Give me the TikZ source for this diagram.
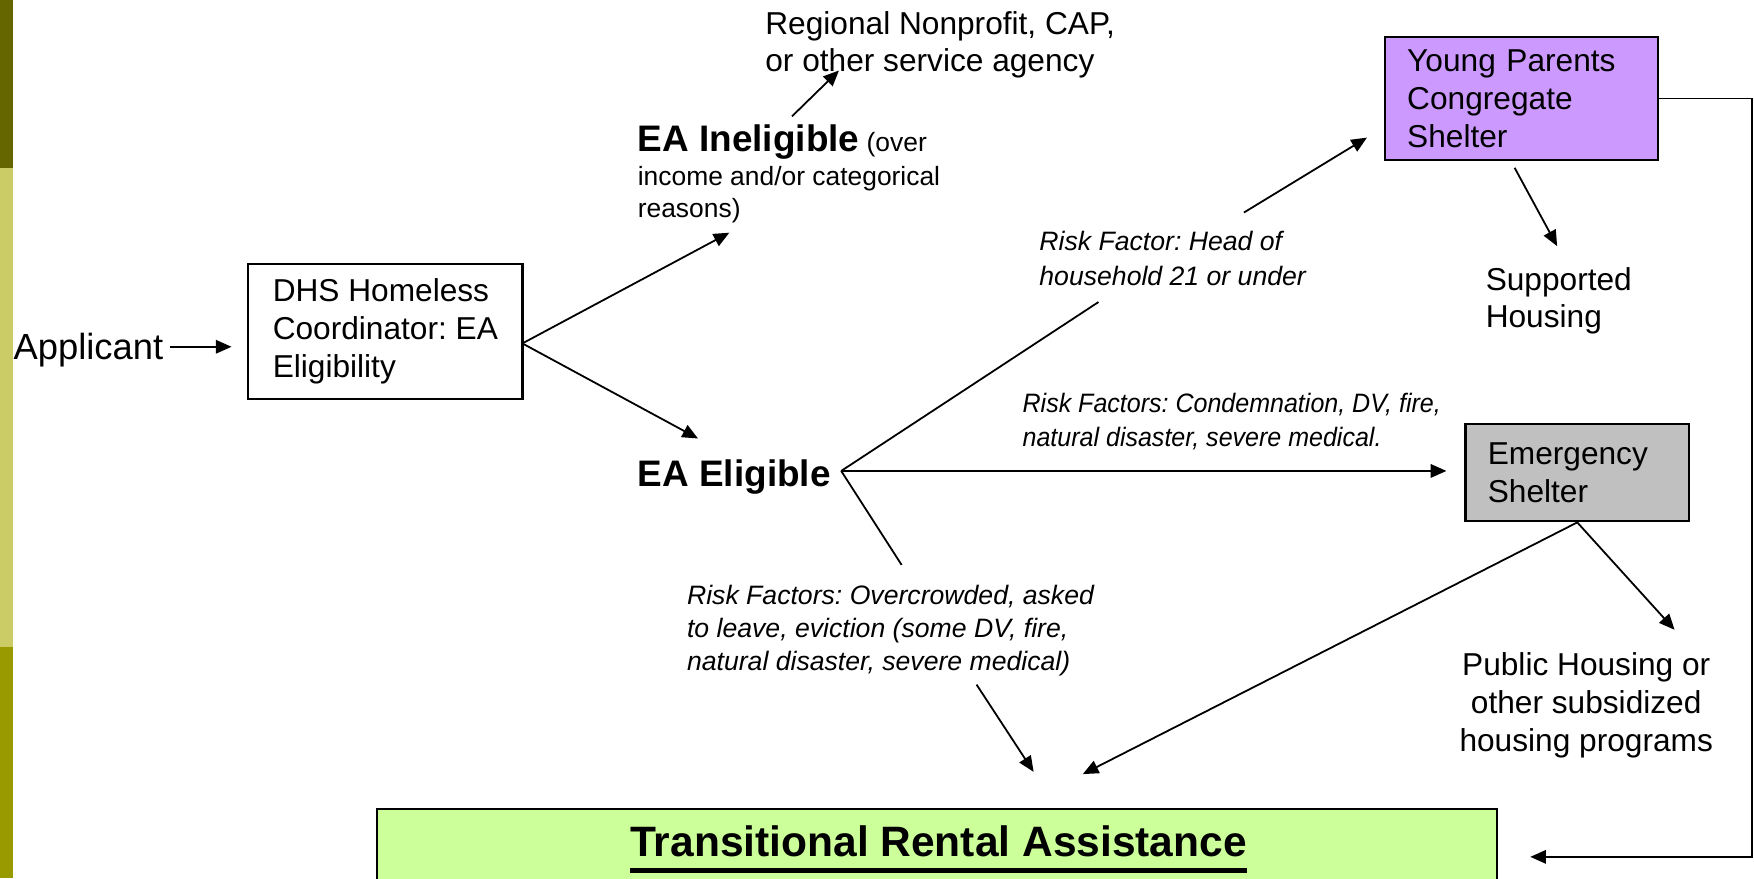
\documentclass[tikz,border=0pt]{standalone}
\usepackage{fontspec}
\setmainfont{Liberation Sans}
\newfontfamily\narrowfont[FakeStretch=0.94]{Liberation Sans}
\usetikzlibrary{arrows.meta,calc}
\definecolor{barDark}{HTML}{666600}
\definecolor{barLight}{HTML}{CCCC66}
\definecolor{barOlive}{HTML}{999900}
\definecolor{youngPurple}{HTML}{CC99FF}
\definecolor{emergGrey}{HTML}{C0C0C0}
\definecolor{transGreen}{HTML}{CCFF99}
\frenchspacing
\begin{document}
\begin{tikzpicture}[x=1pt,y=1pt,
  conn/.style={line width=1.6pt},
  arr/.style={conn,-{Triangle[length=14pt,width=12pt]}},
  box/.style={draw,line width=2pt,inner sep=0pt},
  medtxt/.style={inner sep=0pt,font=\fontsize{28.3}{34}\selectfont},
  itlbl/.style={inner sep=0pt,anchor=north west,align=left,font=\fontsize{23.8}{30}\selectfont\itshape}
]
\useasboundingbox (0,0) rectangle (1568,-785);
\clip (0,0) rectangle (1568,-785);
\fill[white] (0,0) rectangle (1568,-785);
% left bar
\fill[barDark] (0,0) rectangle (12,-150);
\fill[barLight] (0,-150) rectangle (12,-578);
\fill[barOlive] (0,-578) rectangle (12,-785);

% nodes
\node[inner sep=0pt,anchor=base west,font=\fontsize{32.5}{38}\selectfont] (applicant) at (12,-321.6) {Applicant};
\node[box,medtxt,minimum width=245pt,minimum height=121pt,align=left] (dhs) at (344.5,-296.5) {DHS Homeless\\Coordinator: EA\\Eligibility};
\node[inner sep=0pt,anchor=north west,align=left,font=\fontsize{23.6}{28}\selectfont] (inelig) at (570,-111.2) {{\fontsize{33}{40}\selectfont\bfseries EA Ineligible} (over\\[2.7pt]income and/or categorical\\reasons)};
\node[inner sep=0pt,anchor=north west,align=left,font=\fontsize{28.3}{33}\selectfont] (regional) at (684,-10) {Regional Nonprofit, CAP,\\or other service agency};
\node[inner sep=0pt,anchor=base west,font=\fontsize{33}{40}\selectfont\bfseries] (elig) at (570,-434.8) {EA Eligible};
\node[box,medtxt,fill=youngPurple,minimum width=244pt,minimum height=110pt,text width=204pt,align=left,inner xsep=20pt] (young) at (1360,-88) {Young Parents\\Congregate\\Shelter};
\node[inner sep=0pt,anchor=north west,align=left,font=\fontsize{28.3}{33}\selectfont] (supported) at (1328,-239) {Supported\\Housing};
\node[box,medtxt,fill=emergGrey,minimum width=200pt,minimum height=87pt,text width=160pt,align=left,inner xsep=20pt] (emerg) at (1410,-422.5) {Emergency\\Shelter};
\node[inner sep=0pt,anchor=north,align=center,font=\fontsize{28.3}{34}\selectfont] (public) at (1418,-583) {Public Housing or\\other subsidized\\housing programs};
\node[itlbl,font=\fontsize{23.8}{31}\selectfont\itshape] (headlbl) at (929,-206.5) {Risk Factor: Head of\\household 21 or under};
\node[itlbl,font=\fontsize{23.8}{30}\selectfont\narrowfont\itshape] (condlbl) at (914,-351.5) {Risk Factors: Condemnation, DV, fire,\\natural disaster, severe medical.};
\node[itlbl,font=\fontsize{23.8}{29.5}\selectfont\itshape] (overlbl) at (614,-522.5) {Risk Factors: Overcrowded, asked\\to leave, eviction (some DV, fire,\\natural disaster, severe medical)};
\node[box,fill=transGreen,minimum width=1001pt,minimum height=120pt,anchor=north] (trans) at (837.5,-722) {};
\node[inner sep=0pt,anchor=base,font=\fontsize{38}{44}\selectfont\bfseries] (transtext) at (839,-765.6) {Transitional Rental Assistance};
\draw[line width=4.5pt] ([yshift=-12.4pt]transtext.base west) -- ([yshift=-12.4pt]transtext.base east);

% coordinates
\coordinate (appArrow) at (152,-310);
\coordinate (fork) at (467,-307);
\coordinate (inelTip) at (652,-208);
\coordinate (eligTip) at (624,-392);
\coordinate (inelOut) at (708,-104);
\coordinate (regTip) at (750,-63);
\coordinate (split) at (752,-421);
\coordinate (headIn) at (982,-270);
\coordinate (headOut) at (1112,-190);
\coordinate (youngTip) at (1222,-123);
\coordinate (overIn) at (806,-505);
\coordinate (overOut) at (873,-612);
\coordinate (transTipA) at (924,-690);
\coordinate (youngOut) at (1354,-150);
\coordinate (suppTip) at (1392,-220);
\coordinate (pubTip) at (1497,-563);
\coordinate (transTipB) at (968,-692);
\coordinate (transTipC) at (1368,-766);

% connectors
\draw[arr,shorten >=14pt] (appArrow) -- (appArrow -| dhs.west);
\draw[arr] (fork) -- (inelTip);
\draw[arr] (fork) -- (eligTip);
\draw[arr] (inelOut) -- (regTip);
\draw[arr,shorten >=16pt] (split) -- (split -| emerg.west);
\draw[conn] (split) -- (headIn);
\draw[arr] (headOut) -- (youngTip);
\draw[conn] (split) -- (overIn);
\draw[arr] (overOut) -- (transTipA);
\draw[arr] (youngOut) -- (suppTip);
\draw[arr] (emerg.south) -- (pubTip);
\draw[arr] (emerg.south) -- (transTipB);
\draw[arr] (young.east) -- ++(83,0) |- (transTipC);
\end{tikzpicture}
\end{document}
